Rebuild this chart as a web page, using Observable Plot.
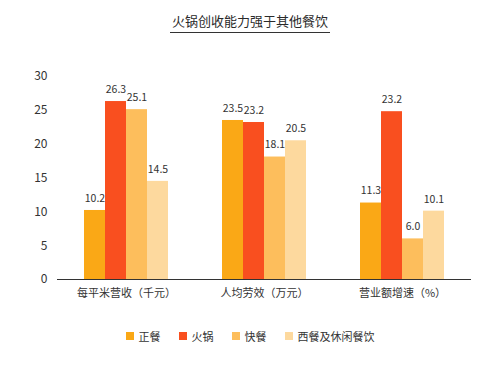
<!DOCTYPE html>
<html>
<head>
<meta charset="utf-8">
<script src="https://cdn.jsdelivr.net/npm/d3@7"></script>
<script src="https://cdn.jsdelivr.net/npm/@observablehq/plot@0.6"></script>
<style>
  body { margin: 0; background: #fff; font-family: "Noto Sans CJK SC", "Noto Sans", sans-serif; }
  #wrap { width: 500px; height: 369px; position: relative; overflow: hidden; }
  #title { position: absolute; left: 0; top: 7px; width: 500px; text-align: center; }
  #title span { display: inline-block; font-size: 13px; color: #2a2a2a; line-height: 17px; padding: 0 2px 3px 2px; border-bottom: 1px solid #333; }
  #chart { position: absolute; left: 0; top: 40px; }
  #legend { position: absolute; left: 0; top: 328px; width: 500px; display: flex; justify-content: center; gap: 0; font-size: 11px; color: #333; }
  .item { display: flex; align-items: center; margin: 0 9px; }
  .sw { width: 8px; height: 8px; margin-right: 5px; display: inline-block; }
</style>
</head>
<body>
<div id="wrap">
  <div id="title"><span>火锅创收能力强于其他餐饮</span></div>
  <div id="chart"></div>
  <div id="legend"></div>
</div>
<script>
const categories = ["每平米营收（千元）", "人均劳效（万元）", "营业额增速（%）"];
const series = ["正餐", "火锅", "快餐", "西餐及休闲餐饮"];
const colors = ["#FAA816", "#F94F1F", "#FDBE5C", "#FDD99E"];
const yTicks = [0, 5, 10, 15, 20, 25, 30];

// bar heights as drawn
const zhengcan = [10.2, 23.5, 11.3];
const huoguo = [26.3, 23.2, 24.8];
const kuaican = [25.1, 18.1, 6.0];
const xican = [14.5, 20.5, 10.1];
// printed labels
const zhengcanLabels = ["10.2", "23.5", "11.3"];
const huoguoLabels = ["26.3", "23.2", "23.2"];
const kuaicanLabels = ["25.1", "18.1", "6.0"];
const xicanLabels = ["14.5", "20.5", "10.1"];

const seriesValues = [zhengcan, huoguo, kuaican, xican];
const seriesLabels = [zhengcanLabels, huoguoLabels, kuaicanLabels, xicanLabels];

const data = [];
categories.forEach((c, i) => {
  series.forEach((s, j) => {
    data.push({cat: c, series: s, value: seriesValues[j][i], label: seriesLabels[j][i]});
  });
});

const chart = Plot.plot({
  width: 500,
  height: 275,
  marginLeft: 57,
  marginRight: 29,
  marginTop: 36,
  marginBottom: 36,
  style: {fontFamily: '"Noto Sans CJK SC", "Noto Sans", sans-serif', background: "transparent"},
  fx: {domain: categories, padding: 0, label: null},
  x: {domain: series, paddingInner: 0, paddingOuter: 1.14, axis: null},
  y: {domain: [0, 30], label: null},
  color: {domain: series, range: colors},
  marks: [
    Plot.axisY({ticks: yTicks, tickSize: 0, tickPadding: 10, fontSize: 12, color: "#333", label: null}),
    Plot.axisFx({anchor: "bottom", tickSize: 0, tickPadding: 10, fontSize: 11, color: "#333", label: null}),
    Plot.barY(data, {fx: "cat", x: "series", y: "value", fill: "series"}),
    Plot.text(data, {fx: "cat", x: "series", y: "value", text: "label", dy: -12, fontSize: 10.5, fill: "#333"}),
    Plot.ruleY([0], {stroke: "#333", strokeWidth: 1})
  ]
});
document.getElementById("chart").appendChild(chart);

const legend = document.getElementById("legend");
series.forEach((s, i) => {
  const it = document.createElement("div");
  it.className = "item";
  it.innerHTML = `<span class="sw" style="background:${colors[i]}"></span><span>${s}</span>`;
  legend.appendChild(it);
});
</script>
</body>
</html>
